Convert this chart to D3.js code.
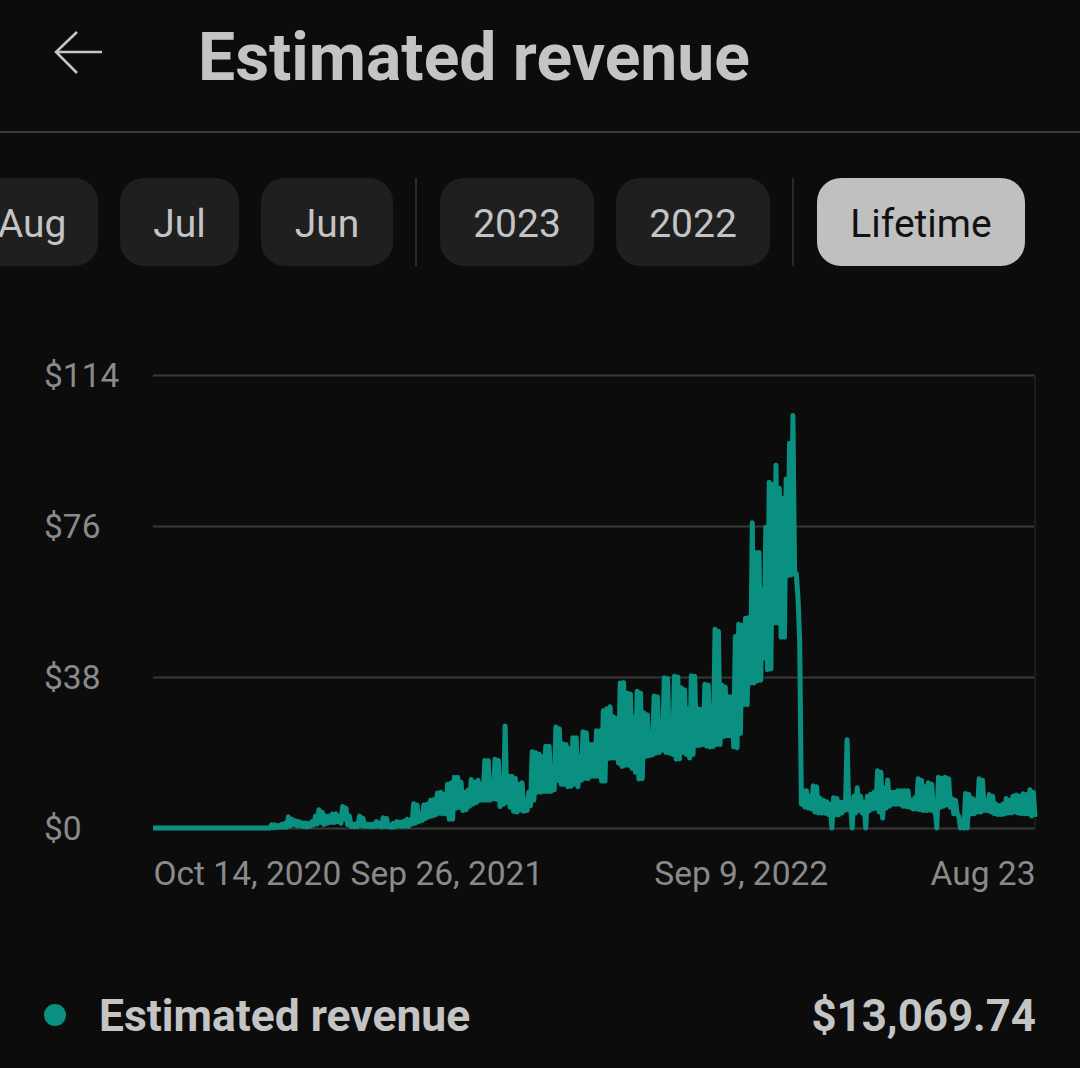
<!DOCTYPE html>
<html>
<head>
<meta charset="utf-8">
<script src="https://cdn.jsdelivr.net/npm/d3@7"></script>
<style>
    html, body { margin: 0; padding: 0; background: #0c0c0c; }
    svg { display: block; font-family: Roboto, sans-serif; }
</style>
</head>
<body>
<div id="chart"></div>
<script>
// values, one sample about every 2 days
const revenue = [
    0,0,0,0,0,0,0,0,0,0, 0,0,0,0,0,0,0,0,0,0, 0,0,0,0,0,0,0,0,0,0, 0,0,0,0,0,0,0,0,0,0,
    0,0,0,0,0,0,0,0,0,0, 0,0,0,0,0,0,0,0,0,0, 0,0,0,0,0,0,0,0,0,0,
    .8,.1,.8,.1,.6,.2,.9,.2,1.2,.2,2.8,.5,2.2,.9,1.8,.6,1.6,.6,1.3,.4,
    1.2,.3,1.2,.5,1.6,.8,3,1,4.6,1.4,4,.9,3,1.2,3,1.4,3.5,1.4,3.6,1.6,
    3,1.2,5.4,2.2,5,.8,3,.4,1,.3,1,.4,3,.6,2.5,.4,1,.4,.9,.3,
    1,.4,1.6,.5,1.2,.3,2.6,.4,2.4,.3,.8,.2,1.2,.3,1.6,.5,1.5,.4,1.7,.5,
    2.2,.4,2,1,6.1,1.2,5.8,1.6,3.5,1.9,5.8,2.4,6,2.8,7,3,7.2,3.3,8.8,3.7,
    9,3.6,8.5,3.6,11,2.2,11.3,2.2,12.8,5,12.8,5.2,11.5,4.4,9,4.6,9.5,5.5,12.2,6,
    11.5,6.4,12,7,11,7,17,7,17,7,10,7.3,17.3,7.2,17,5.4,12,6,25.7,6.4,
    13,5.2,13,4.2,12.5,4,11,4.5,11.4,4.2,7,4.4,9,5.6,19.2,7,19,9,18.6,9,
    18,9.2,20.6,9.2,20.6,9.2,14,9.6,25.4,12,25,11,21.2,11,21,10.4,20,10.5,22.7,11,
    22.7,10.4,18,12,24.2,12.5,24,12.4,21,13,21,13,24.5,13,24.4,11.8,29.5,11.8,30,17.5,
    30.5,17.6,28,17.6,27.5,16.3,36.5,15.5,36.6,15.8,34,15.8,33.7,15,28,14,34.4,12.3,34,12.4,
    29,18,28.5,18.2,24,18.4,33.2,18.8,33,19,26,19.6,37.8,19,37.6,18.8,28,18.5,38.2,17.3,
    38,17.4,35.3,19,34.8,18.5,30,17.6,38.3,18.5,38.2,20.8,30,20.8,29.8,21,36.2,20.6,36,20.4,
    30,20.5,50,21,49.5,21,36,23,35.5,23.2,33,23.2,33,20.4,48.2,20.2,51.3,23.8,51,31,
    52.8,31,53,36.5,76.8,36.5,69.3,37,69.3,37.2,60,42.8,75.7,39.8,87,40,86.5,51.6,91.3,51.6,
    85.5,48,83,48,87.8,63.5,96.8,63.7,103.8,64,64,58,47,6,9.4,5.3,9.4,5,8,4.8,
    10.6,4,10.4,3.8,7.5,3.8,7,3.7,6.6,3.4,6,0,7.6,3.3,7.4,3.3,6.5,3.8,6.5,4.5,
    22.2,4.5,6,0,8,3.8,10.1,4.4,8,3.8,6.5,0,8,4.3,8.5,4.8,9,5,14.4,4,
    14,2.5,10,5,12.1,5.5,9,6,9,6,9.4,6,9.4,5.5,9.4,5.4,9.4,5.2,7,4.8,
    7.6,4.8,12.4,4.6,12,4.4,10.4,4.4,11.4,4.5,11,4.2,5,0,12.8,5.2,12.5,5.5,12.8,5.8,
    12.4,5.2,7.4,3.6,7,3.6,3,0,1,0,8.7,0,8.4,3.5,7.4,3.6,7,4,12.4,4,
    12,4.4,7,4.4,8.4,4,8,3.6,6,3.4,5.6,3.4,6,3.5,7.4,3.8,7,3.8,8,4,
    8.3,3.8,8,3.6,8.6,3.6,8.4,3.6,9.6,3,9,2.8
];
const firstDay = new Date(2020, 9, 14);
const lastDay = new Date(2023, 7, 23);
const yTicks = [0, 38, 76, 114];
const xTickDates = [firstDay, new Date(2021, 8, 26), new Date(2022, 8, 9), lastDay];
const xTickLabels = ['Oct 14, 2020', 'Sep 26, 2021', 'Sep 9, 2022', 'Aug 23'];
const chipLabels = ['Aug', 'Jul', 'Jun', '2023', '2022', 'Lifetime'];
const chipEdges = [[-40, 98], [120, 239], [261, 393], [440, 594], [616, 770], [817, 1025]];
const dividers = [416, 793];

const seriesName = 'Estimated revenue';
const totalLabel = '$13,069.74';

const width = 1080;
const height = 1068;
const margin = { top: 375, right: 45, bottom: 240, left: 153 };

const svg = d3.select('#chart')
    .append('svg')
    .attr('width', width)
    .attr('height', height);

svg.append('rect').attr('width', width).attr('height', height).attr('fill', '#0c0c0c');

// header
svg.append('path')
    .attr('d', d3.line()([[102, 52], [56, 52]]) + d3.line()([[77, 32], [56, 52], [77, 73]]))
    .attr('fill', 'none')
    .attr('stroke', '#c6c6c6')
    .attr('stroke-width', 2.5);

svg.append('text')
    .attr('x', 198)
    .attr('y', 80)
    .attr('fill', '#c4c4c4')
    .attr('font-size', 66)
    .attr('font-weight', 700)
    .text(seriesName);

svg.append('rect')
    .attr('x', 0).attr('y', 131)
    .attr('width', width).attr('height', 2)
    .attr('fill', '#3a3a3a');

// period chips
const chips = svg.selectAll('.chip')
    .data(chipLabels)
    .join('g')
    .attr('class', 'chip');

chips.append('rect')
    .attr('x', (d, i) => chipEdges[i][0])
    .attr('y', 178)
    .attr('width', (d, i) => chipEdges[i][1] - chipEdges[i][0])
    .attr('height', 88)
    .attr('rx', 24)
    .attr('fill', d => d === 'Lifetime' ? '#c0c0c0' : '#1f1f1f');

chips.append('text')
    .attr('x', (d, i) => d === 'Aug' ? 32 : (chipEdges[i][0] + chipEdges[i][1]) / 2)
    .attr('y', 237)
    .attr('text-anchor', 'middle')
    .attr('font-size', 39)
    .attr('fill', d => d === 'Lifetime' ? '#111111' : '#c4c4c4')
    .text(d => d);

svg.selectAll('.divider')
    .data(dividers)
    .join('rect')
    .attr('class', 'divider')
    .attr('x', d => d - 1)
    .attr('y', 178)
    .attr('width', 2)
    .attr('height', 88)
    .attr('fill', '#2a2a2a');

// chart
const x = d3.scaleTime()
    .domain([firstDay, lastDay])
    .range([margin.left, width - margin.right]);

const y = d3.scaleLinear()
    .domain([0, 114])
    .range([height - margin.bottom, margin.top]);

const yAxis = d3.axisLeft(y)
    .tickValues(yTicks)
    .tickSize(-(width - margin.left - margin.right))
    .tickFormat(d => `$${d}`);

const yAxisG = svg.append('g')
    .attr('transform', `translate(${margin.left}, 0)`)
    .call(yAxis);

yAxisG.select('.domain').remove();
yAxisG.selectAll('line').attr('stroke', '#383838').attr('stroke-width', 2);
yAxisG.selectAll('text')
    .attr('x', -109)
    .attr('dy', '0.35em')
    .attr('text-anchor', 'start')
    .attr('font-size', 33.5)
    .attr('font-family', 'Roboto, sans-serif')
    .attr('fill', '#8a8a8a');

svg.append('line')
    .attr('x1', x(lastDay)).attr('x2', x(lastDay))
    .attr('y1', y(114)).attr('y2', y(0))
    .attr('stroke', '#1c1c1c')
    .attr('stroke-width', 2);

const xAxis = d3.axisBottom(x)
    .tickValues(xTickDates)
    .tickSize(0)
    .tickFormat((d, i) => xTickLabels[i]);

const xAxisG = svg.append('g')
    .attr('transform', `translate(0, ${y(0)})`)
    .call(xAxis);

xAxisG.select('.domain').remove();
xAxisG.selectAll('text')
    .attr('y', 33)
    .attr('dy', '0.71em')
    .attr('text-anchor', (d, i) => i === 0 ? 'start' : i === xTickDates.length - 1 ? 'end' : 'middle')
    .attr('font-size', 33.5)
    .attr('font-family', 'Roboto, sans-serif')
    .attr('fill', '#8a8a8a');

const msPerSample = (lastDay - firstDay) / (revenue.length - 1);

const line = d3.line()
    .x((d, i) => x(new Date(+firstDay + i * msPerSample)))
    .y(d => y(d));

svg.append('path')
    .datum(revenue)
    .attr('d', line)
    .attr('fill', 'none')
    .attr('stroke', '#0a9080')
    .attr('stroke-width', 5)
    .attr('stroke-linejoin', 'round')
    .attr('stroke-linecap', 'butt');

// legend row
svg.append('circle')
    .attr('cx', 55).attr('cy', 1015).attr('r', 11)
    .attr('fill', '#0a9080');

svg.append('text')
    .attr('x', 99)
    .attr('y', 1031)
    .attr('fill', '#c4c4c4')
    .attr('font-size', 44.4)
    .attr('font-weight', 700)
    .text(seriesName);

svg.append('text')
    .attr('x', 1036)
    .attr('y', 1031)
    .attr('text-anchor', 'end')
    .attr('fill', '#c4c4c4')
    .attr('font-size', 43.8)
    .attr('font-weight', 700)
    .text(totalLabel);
</script>
</body>
</html>
